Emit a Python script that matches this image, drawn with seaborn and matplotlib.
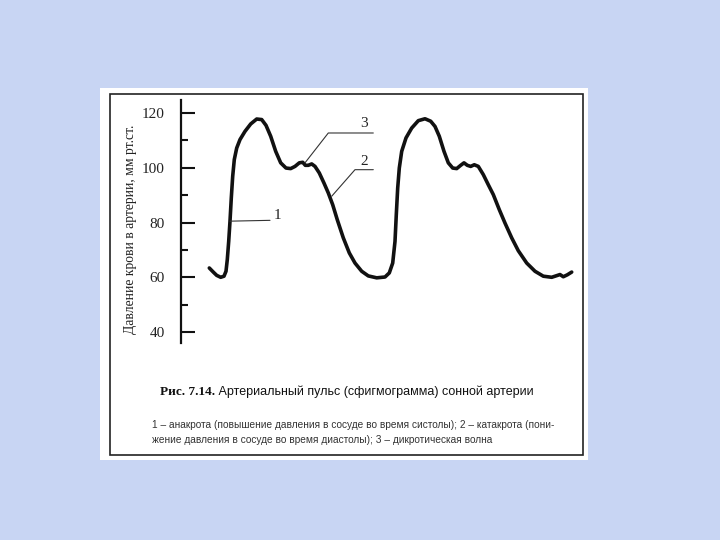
import numpy as np
import pandas as pd
import matplotlib
matplotlib.use("Agg")
import matplotlib.pyplot as plt
from matplotlib.patches import Rectangle
from matplotlib.ticker import MultipleLocator
import seaborn as sns

# ---- data (time in arbitrary units, pressure in mm Hg) ----
time = [29.3, 33.3, 36.7, 40.7, 44, 46, 47.3, 48.7, 50, 51.3, 52.7, 54.3, 56.7, 60, 65,
        70.7, 76.7, 81.7, 86, 90.7, 95.7, 100.7, 106, 110.7, 115, 119.3, 122.7, 125.3,
        128.3, 131.7, 135, 139.3, 144, 148.3, 152.7, 157.3, 163.3, 169.3, 175, 181.7,
        188.3, 196.7, 205, 209.3, 212.7, 215, 216.3, 217.7, 219.3, 221.7, 226, 231.7,
        238.3, 245, 250.7, 255, 259.3, 264, 268.3, 272.7, 276.7, 280.7, 284, 287.3,
        290.7, 294.3, 298.3, 303.3, 308.3, 313.3, 319.3, 325, 331.7, 338.3, 346.7, 355,
        363.3, 371.7, 376.7, 380, 383.3, 387.3, 391.7]
pressure = [63.4, 61.9, 60.7, 60.0, 60.4, 62.2, 66.5, 73.1, 80.5, 89, 96.9, 103, 107.2,
            110.3, 113.3, 116, 117.8, 117.6, 115.5, 111.5, 106, 101.8, 99.9, 99.7, 100.5,
            101.8, 102, 100.9, 100.9, 101.4, 100.5, 98.1, 94.4, 90.8, 86.5, 81, 74.4, 68.9,
            65.2, 62.2, 60.5, 59.8, 60.1, 61.6, 65.2, 73.1, 82.9, 92.6, 99.9, 106, 110.9,
            114.5, 117.2, 117.9, 117, 115.1, 111.5, 106, 101.8, 99.9, 99.7, 100.9, 101.8,
            100.9, 100.5, 101.1, 100.5, 97.5, 93.8, 90.2, 84.7, 79.8, 74.4, 69.7, 65.2,
            62.2, 60.4, 60, 60.6, 61, 60.2, 60.9, 61.9]
y_ticks = [40, 60, 80, 100, 120]
y_label = "Давление крови в артерии, мм рт.ст."
caption_bold = "Рис. 7.14."
caption_title = " Артериальный пульс (сфигмограмма) сонной артерии"
caption_line1 = "1 – анакрота (повышение давления в сосуде во время систолы); 2 – катакрота (пони-"
caption_line2 = "жение давления в сосуде во время диастолы); 3 – дикротическая волна"
annot_labels = ["1", "2", "3"]

df = pd.DataFrame({"t": time, "p": pressure})

sns.set_theme(style="white")
plt.rcParams["font.family"] = ["Liberation Serif", "DejaVu Serif"]

fig = plt.figure(figsize=(7.2, 5.4), dpi=100)
fig.patch.set_facecolor("#c8d5f3")

# white sheet and frame
fig.patches.append(Rectangle((100 / 720, 1 - 460 / 540), 488 / 720, 372 / 540,
                             transform=fig.transFigure, facecolor="white",
                             edgecolor="none", zorder=-3))
fig.patches.append(Rectangle((110 / 720, 1 - 455 / 540), 473 / 720, 361 / 540,
                             transform=fig.transFigure, facecolor="none",
                             edgecolor="#222222", linewidth=1.2, zorder=-2))

ax = fig.add_axes([181 / 720, 1 - 343 / 540, (575 - 181) / 720, 243 / 540])
ax.set_zorder(2)
ax.set_facecolor("none")

sns.lineplot(data=df, x="t", y="p", ax=ax, color="#111111", linewidth=2.6,
             sort=False, estimator=None)

ax.set_xlim(1, 395)
ax.set_ylim(36.0, 124.75)
ax.set_xlabel("")
ax.set_xticks([])
ax.set_yticks(y_ticks)
ax.set_yticklabels([str(v) for v in y_ticks])
ax.yaxis.set_minor_locator(MultipleLocator(10))
ax.tick_params(axis="y", which="major", direction="in", length=10, width=1.5,
               color="#111111", pad=11.5, labelsize=11, labelcolor="#222222", left=True)
ax.tick_params(axis="y", which="minor", direction="in", length=5, width=1.5,
               color="#111111", left=True)
for s in ["top", "right", "bottom"]:
    ax.spines[s].set_visible(False)
ax.spines["left"].set_linewidth(1.6)
ax.spines["left"].set_color("#111111")

ax.set_ylabel(y_label, fontsize=9.8, color="#222222")
ax.yaxis.set_label_coords(-0.112, 0.469)

# annotation leaders
lc = "#333333"
ax.plot([50, 90], [80.5, 80.8], color=lc, lw=0.8)
ax.text(97, 82.6, annot_labels[0], fontsize=11, ha="center", va="center", color="#222222")
ax.plot([151.7, 175, 193.3], [89.6, 99.3, 99.3], color=lc, lw=0.8)
ax.text(184.3, 102.4, annot_labels[1], fontsize=11, ha="center", va="center", color="#222222")
ax.plot([125, 148.3, 193.3], [101.8, 112.7, 112.7], color=lc, lw=0.8)
ax.text(184.3, 116, annot_labels[2], fontsize=11, ha="center", va="center", color="#222222")

# caption
t1 = fig.text(160 / 720, 1 - 392 / 540, caption_bold, fontsize=9.5, fontweight="bold",
              family=["Liberation Serif"], va="center", ha="left", color="#111111")
ax.annotate(caption_title, xy=(1, 0.5), xycoords=t1, va="center", ha="left",
            fontsize=9, family=["Liberation Sans"], color="#111111",
            annotation_clip=False)
fig.text(152 / 720, 1 - 425 / 540, caption_line1, fontsize=7.3,
         family=["Liberation Sans"], va="center", ha="left", color="#333333")
fig.text(152 / 720, 1 - 440 / 540, caption_line2, fontsize=7.3,
         family=["Liberation Sans"], va="center", ha="left", color="#333333")

fig.savefig("out.png", dpi=100, facecolor=fig.get_facecolor())
